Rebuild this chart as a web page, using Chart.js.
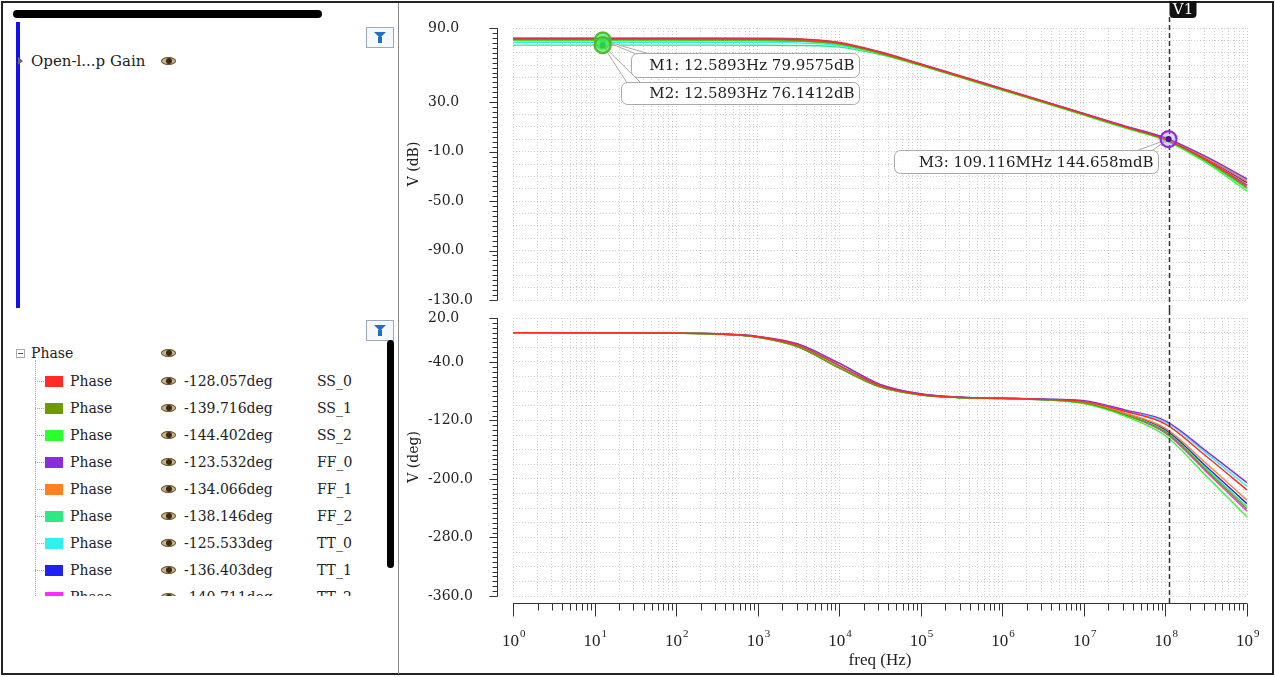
<!DOCTYPE html>
<html>
<head>
<meta charset="utf-8">
<script src="https://cdn.jsdelivr.net/npm/chart.js@4.4.1/dist/chart.umd.min.js"></script>
<style>
  body { margin: 0; width: 1275px; height: 677px; background: #fff; overflow: hidden; position: relative;
         font-family: "DejaVu Serif", serif; color: #222; }
  .abs { position: absolute; }
  #frame { left: 1px; top: 1px; width: 1269px; height: 670px; border: 2px solid #222; }
  #divider { left: 398px; top: 3px; width: 1px; height: 671px; background: #888; }
  .hbar { left: 13px; top: 10px; width: 309px; height: 8px; border-radius: 4px; background: #000; }
  .vbar { left: 16px; top: 22px; width: 4px; height: 286px; background: #1010f0; }
  .scroll { left: 387px; top: 340px; width: 7px; height: 228px; border-radius: 4px; background: #000; }
  .filter { width: 26px; height: 19px; border: 1px solid #9aaabb; background: #f6f9fc; }
  .filter::before { content: ""; position: absolute; left: 7px; top: 4px; border-left: 6px solid transparent;
                    border-right: 6px solid transparent; border-top: 6px solid #1f6fc5; }
  .filter::after { content: ""; position: absolute; left: 11px; top: 9px; width: 4px; height: 6px; background: #1f6fc5; }
  .eye { width: 15px; height: 8px; border-radius: 50%; background: #c8b48a; box-shadow: inset 0 0 0 1px #6b5533; }
  .eye::after { content: ""; position: absolute; left: 5px; top: 1px; width: 6px; height: 6px; border-radius: 50%; background: #3b2a12; }
  .txt { height: 18px; line-height: 18px; font-size: 14px; white-space: nowrap; }
  .exp { width: 7px; height: 7px; border: 1px solid #aaa; background: #fff; }
  .exp::after { content: ""; position: absolute; left: 1px; top: 3px; width: 5px; height: 1px; background: #555; }
  #list { left: 0; top: 340px; width: 385px; height: 256px; overflow: hidden; }
  .sq { width: 18px; height: 11px; }
  .tree { border-left: 1px dotted #aaa; }
  .conn { border-top: 1px dotted #aaa; height: 0; }
  canvas { position: absolute; }
</style>
</head>
<body>
<div id="frame" class="abs"></div>
<div id="divider" class="abs"></div>

<div class="abs hbar"></div>
<div class="abs vbar"></div>
<div class="abs filter" style="left:366px;top:27px"></div>
<div class="abs" style="left:18px;top:57px;width:0;height:0;border-top:4px solid transparent;border-bottom:4px solid transparent;border-left:5px solid #666"></div>
<div class="abs txt" style="left:31px;top:52px;font-size:15px">Open-l...p Gain</div>
<div class="abs eye" style="left:161px;top:57px"></div>

<div class="abs filter" style="left:366px;top:320px"></div>
<div class="abs scroll"></div>
<div class="abs exp" style="left:16px;top:349px"></div>
<div class="abs txt" style="left:31px;top:344px">Phase</div>
<div class="abs eye" style="left:161px;top:349px"></div>
<div id="list" class="abs"></div>

<canvas id="gainChart" width="870" height="310" style="left:400px;top:0"></canvas>
<canvas id="phaseChart" width="870" height="364" style="left:400px;top:310px"></canvas>

<script>
// frequency points (Hz)
const freqHz = [1, 10, 100, 316.2, 1e3, 3162, 1e4, 31623, 1e5, 316228, 1e6, 3162278, 1e7, 31622777, 1e8, 316227766, 1e9];

const cornerNames = ["SS_0", "SS_1", "SS_2", "FF_0", "FF_1", "FF_2", "TT_0", "TT_1", "TT_2"];
const seriesColors = ["#ff2a2a", "#6f9a00", "#2cff2c", "#8a2be2", "#ff7f27", "#2ee883", "#33f0f0", "#2020f0", "#ff2aff"];
const phaseAtCursor = ["-128.057deg", "-139.716deg", "-144.402deg", "-123.532deg", "-134.066deg",
                       "-138.146deg", "-125.533deg", "-136.403deg", "-140.711deg"];

// open-loop gain, dB
const gainSS_0 = [81.2, 81.2, 81.2, 81.2, 81.1, 80.7, 78.0, 70.4, 60.6, 50.6, 40.6, 30.6, 20.5, 10.2, 0.2, -16.5, -37];
const gainSS_1 = [80.6, 80.6, 80.6, 80.5, 80.4, 79.9, 77.2, 69.6, 60.0, 50.1, 40.1, 30.1, 20.0, 9.8, -0.3, -17.5, -39];
const gainSS_2 = [79.96, 79.96, 79.95, 79.94, 79.9, 79.4, 76.8, 69.2, 59.6, 49.6, 39.6, 29.6, 19.5, 9.2, -1.0, -19, -42];
const gainFF_0 = [81.5, 81.5, 81.5, 81.5, 81.4, 81.0, 78.2, 70.6, 60.9, 50.9, 40.9, 30.9, 20.9, 10.8, 1.2, -14, -32];
const gainFF_1 = [82.0, 82.0, 82.0, 82.0, 81.9, 81.4, 78.5, 70.8, 61.0, 51.0, 41.0, 31.0, 20.8, 10.6, 0.8, -15, -34];
const gainFF_2 = [76.14, 76.14, 76.13, 76.12, 76.08, 75.9, 74.5, 68.5, 59.8, 50.0, 40.0, 30.0, 19.8, 9.5, -0.6, -18, -40];
const gainTT_0 = [78.5, 78.5, 78.5, 78.5, 78.4, 78.0, 75.9, 69.4, 60.2, 50.3, 40.3, 30.3, 20.2, 10.2, 0.6, -15, -33];
const gainTT_1 = [80.0, 80.0, 80.0, 80.0, 79.9, 79.5, 77.0, 69.8, 60.3, 50.4, 40.4, 30.4, 20.3, 10.1, 0.3, -15.5, -35];
const gainTT_2 = [80.8, 80.8, 80.8, 80.8, 80.7, 80.3, 77.6, 70.0, 60.4, 50.4, 40.4, 30.4, 20.2, 9.9, -0.2, -17, -38];

// phase, deg
const phaseSS_0 = [0, -0.1, -0.6, -1.8, -5.7, -17.5, -45.0, -72.5, -84.5, -88.6, -89.8, -91.2, -94.0, -107.5, -125.0, -169, -215];
const phaseSS_1 = [0, -0.1, -0.7, -2.0, -6.4, -19.6, -48.2, -74.2, -85.2, -88.9, -90.0, -91.6, -96.0, -112.0, -136.0, -188, -241];
const phaseSS_2 = [0, -0.1, -0.7, -2.0, -6.4, -19.6, -48.2, -74.2, -85.3, -89.0, -90.2, -91.9, -97.0, -114.0, -141.0, -196, -252];
const phaseFF_0 = [0, -0.1, -0.5, -1.6, -5.1, -15.7, -41.8, -70.6, -83.6, -88.2, -89.5, -90.8, -93.0, -105.5, -120.5, -162, -205];
const phaseFF_1 = [0, -0.1, -0.5, -1.6, -5.1, -15.7, -41.8, -70.6, -83.8, -88.4, -89.7, -91.3, -95.0, -110.0, -131.0, -179, -229];
const phaseFF_2 = [0, -0.1, -0.6, -1.8, -5.7, -17.5, -45.0, -72.5, -84.6, -88.7, -89.9, -91.5, -96.0, -111.5, -135.0, -186, -238];
const phaseTT_0 = [0, -0.1, -0.6, -1.8, -5.7, -17.5, -45.0, -72.5, -84.2, -88.4, -89.6, -91.0, -93.5, -106.5, -122.5, -165, -210];
const phaseTT_1 = [0, -0.1, -0.6, -1.8, -5.7, -17.5, -45.0, -72.5, -84.5, -88.6, -89.8, -91.4, -95.5, -110.5, -133.0, -183, -234];
const phaseTT_2 = [0, -0.1, -0.7, -2.0, -6.4, -19.6, -48.2, -74.2, -85.1, -88.9, -90.1, -91.7, -96.5, -112.5, -137.5, -190, -244];

const gainSeries = [gainSS_0, gainSS_1, gainSS_2, gainFF_0, gainFF_1, gainFF_2, gainTT_0, gainTT_1, gainTT_2];
const phaseSeries = [phaseSS_0, phaseSS_1, phaseSS_2, phaseFF_0, phaseFF_1, phaseFF_2, phaseTT_0, phaseTT_1, phaseTT_2];

// axis tick labels
const gainTickLabels = [90, 30, -10, -50, -90, -130];
const phaseTickLabels = [20, -40, -120, -200, -280, -360];
const freqExponents = [0, 1, 2, 3, 4, 5, 6, 7, 8, 9];

// markers and cursor
const cursorFreq = 109.116e6;
const markerNames = ["M1", "M2", "M3"];
const markerFreq = [12.5893, 12.5893, 109.116e6];
const markerValue = [79.9575, 76.1412, 0.144658];
const markerText = ["M1: 12.5893Hz 79.9575dB", "M2: 12.5893Hz 76.1412dB", "M3: 109.116MHz 144.658mdB"];

// callout placement / look (style only)
const calloutStyle = [
  { dx: 28, dy: 13, w: 228, h: 24, tail: "left", ring: "rgba(80,180,40,0.95)", fill: "rgba(70,235,90,0.7)" },
  { dx: 18, dy: 37, w: 238, h: 22, tail: "left", ring: "rgba(80,180,40,0.95)", fill: "rgba(70,235,90,0.7)" },
  { dx: -275, dy: 11, w: 264, h: 23, tail: "right", ring: "#8a2be2", fill: "rgba(170,120,240,0.35)" }
];

// ---- left panel legend rows ----
const list = document.getElementById("list");
function add(cls, style, text) {
  const d = document.createElement("div");
  d.className = "abs " + cls;
  d.style.cssText = style;
  if (text) d.textContent = text;
  list.appendChild(d);
}
add("tree", "left:35px;top:20px;width:0;height:260px");
cornerNames.forEach((name, i) => {
  const cy = 41 + 27 * i;
  add("conn", `left:35px;top:${cy}px;width:9px`);
  add("sq", `left:45px;top:${cy - 5}px;background:${seriesColors[i]}`);
  add("txt", `left:70px;top:${cy - 9}px`, "Phase");
  add("eye", `left:161px;top:${cy - 4}px`);
  add("txt", `left:184px;top:${cy - 9}px`, phaseAtCursor[i]);
  add("txt", `left:317px;top:${cy - 9}px`, name);
});

// ---- chart plugins ----
const axisDecor = {
  id: "axisDecor",
  afterDraw(chart, args, opts) {
    const { ctx, chartArea: area } = chart;
    const x = chart.scales.x, y = chart.scales.y;
    const ax = area.left - 15.5;
    ctx.save();
    ctx.strokeStyle = "#333";
    ctx.lineWidth = 1;
    ctx.beginPath();
    ctx.moveTo(ax, area.top);
    ctx.lineTo(ax, area.bottom);
    for (let v = y.min; v <= y.max + 0.01; v += opts.minorStep) {
      const py = Math.round(y.getPixelForValue(v)) + 0.5;
      ctx.moveTo(ax, py);
      ctx.lineTo(ax - 5, py);
    }
    opts.tickLabels.forEach(v => {
      const py = Math.round(y.getPixelForValue(v)) + 0.5;
      ctx.moveTo(ax, py);
      ctx.lineTo(ax - 8, py);
    });
    ctx.stroke();

    ctx.fillStyle = "#222";
    ctx.font = '14px "DejaVu Serif"';
    ctx.textAlign = "left";
    ctx.textBaseline = "middle";
    opts.tickLabels.forEach(v => ctx.fillText(v.toFixed(1), 28, y.getPixelForValue(v)));

    if (opts.freqAxis) {
      const ly = area.bottom + 7.5;
      ctx.beginPath();
      ctx.moveTo(area.left, ly);
      ctx.lineTo(area.right, ly);
      x.ticks.forEach(t => {
        const lg = Math.log10(t.value);
        const dec = Math.abs(lg - Math.round(lg)) < 1e-6;
        const px = Math.round(x.getPixelForValue(t.value)) + 0.5;
        ctx.moveTo(px, ly);
        ctx.lineTo(px, ly + (dec ? 13 : 7));
      });
      ctx.stroke();
      freqExponents.forEach(e => {
        const px = x.getPixelForValue(Math.pow(10, e));
        ctx.font = '17px "Liberation Serif"';
        ctx.textAlign = "right";
        ctx.fillText("10", px + 6, ly + 38);
        ctx.font = '11px "Liberation Serif"';
        ctx.textAlign = "left";
        ctx.fillText(String(e), px + 7, ly + 31);
      });
    }
    ctx.restore();
  }
};

const cursorPlugin = {
  id: "cursorLine",
  afterDraw(chart, args, opts) {
    const { ctx, chartArea: area } = chart;
    const px = Math.round(chart.scales.x.getPixelForValue(cursorFreq)) + 0.5;
    ctx.save();
    ctx.strokeStyle = "#333";
    ctx.lineWidth = 1.5;
    ctx.setLineDash([5, 3]);
    ctx.beginPath();
    ctx.moveTo(px, opts.top ? 17 : 0);
    ctx.lineTo(px, opts.top ? chart.height : area.bottom + 7);
    ctx.stroke();
    ctx.setLineDash([]);
    if (opts.top) {
      ctx.fillStyle = "#111";
      ctx.beginPath();
      ctx.roundRect(px, 1, 27, 17, [0, 0, 4, 4]);
      ctx.fill();
      ctx.fillStyle = "#fff";
      ctx.font = '15px "DejaVu Serif"';
      ctx.textAlign = "center";
      ctx.textBaseline = "middle";
      ctx.fillText("V1", px + 13.5, 10);
    }
    ctx.restore();
  }
};

const markerPlugin = {
  id: "markerCallouts",
  afterDraw(chart) {
    const ctx = chart.ctx, x = chart.scales.x, y = chart.scales.y;
    ctx.save();
    markerNames.forEach((name, i) => {
      const st = calloutStyle[i];
      const mx = x.getPixelForValue(markerFreq[i]);
      const my = y.getPixelForValue(markerValue[i]);
      const left = Math.round(mx + st.dx) + 0.5, top = Math.round(my + st.dy) + 0.5;
      const right = left + st.w;
      const a = st.tail === "left" ? [left + 6, top + 1] : [right - 24, top + 1];
      const b = st.tail === "left" ? [left + 20, top + 1] : [right - 8, top + 1];
      ctx.strokeStyle = "#a8a8a8";
      ctx.lineWidth = 1;
      ctx.fillStyle = "rgba(255,255,255,0.92)";
      ctx.beginPath();
      ctx.moveTo(mx, my);
      ctx.lineTo(a[0], a[1]);
      ctx.lineTo(b[0], b[1]);
      ctx.closePath();
      ctx.fill();
      ctx.beginPath();
      ctx.moveTo(mx, my); ctx.lineTo(a[0], a[1]);
      ctx.moveTo(mx, my); ctx.lineTo(b[0], b[1]);
      ctx.stroke();
      ctx.beginPath();
      ctx.roundRect(left, top, st.w, st.h, 6);
      ctx.fill();
      ctx.stroke();
      ctx.fillStyle = "#222";
      ctx.font = '15px "DejaVu Serif"';
      ctx.textAlign = "right";
      ctx.textBaseline = "middle";
      ctx.fillText(markerText[i], right - 5, top + st.h / 2 + 1);
    });
    markerNames.forEach((name, i) => {
      const st = calloutStyle[i];
      const mx = x.getPixelForValue(markerFreq[i]);
      const my = y.getPixelForValue(markerValue[i]);
      ctx.beginPath();
      ctx.arc(mx, my, 8, 0, Math.PI * 2);
      ctx.fillStyle = st.fill;
      ctx.fill();
      ctx.lineWidth = 2.2;
      ctx.strokeStyle = st.ring;
      ctx.stroke();
      ctx.beginPath();
      ctx.arc(mx, my, 3, 0, Math.PI * 2);
      ctx.fillStyle = st.tail === "right" ? "#4a1390" : "rgba(40,200,70,0.9)";
      ctx.fill();
    });
    ctx.restore();
  }
};

// ---- charts ----
const gridColor = "#cfcfcf";

function logTicks(scale) {
  const t = [];
  for (let e = 0; e < 9; e++) {
    for (let m = 1; m < 10; m++) t.push({ value: m * Math.pow(10, e) });
  }
  t.push({ value: 1e9 });
  scale.ticks = t;
}

function makeDatasets(series) {
  return series.map((vals, i) => ({
    label: cornerNames[i],
    data: freqHz.map((f, j) => ({ x: f, y: vals[j] })),
    borderColor: seriesColors[i],
    borderWidth: 1.4,
    pointRadius: 0,
    fill: false,
    cubicInterpolationMode: "monotone"
  }));
}

function chartOptions(cfg) {
  return {
    animation: false,
    responsive: false,
    maintainAspectRatio: false,
    layout: { padding: cfg.padding },
    plugins: {
      legend: { display: false },
      tooltip: { enabled: false },
      axisDecor: { tickLabels: cfg.tickLabels, minorStep: cfg.minorStep, freqAxis: cfg.freqAxis },
      cursorLine: { top: !cfg.freqAxis }
    },
    scales: {
      x: {
        type: "logarithmic",
        min: 1,
        max: 1e9,
        afterBuildTicks: logTicks,
        ticks: { display: false, autoSkip: false },
        grid: { color: gridColor, drawTicks: false },
        border: { display: false, dash: [1, 2] },
        title: {
          display: cfg.freqAxis,
          text: "freq (Hz)",
          color: "#222",
          font: { family: "Liberation Serif", size: 17 },
          padding: { top: 0, bottom: 3 }
        },
        afterFit(s) { s.height = cfg.xHeight; }
      },
      y: {
        min: cfg.min,
        max: cfg.max,
        afterBuildTicks(s) {
          const t = [];
          for (let v = cfg.min; v <= cfg.max + 0.01; v += cfg.gridStep) t.push({ value: v });
          s.ticks = t;
        },
        ticks: { display: false },
        grid: { color: gridColor, drawTicks: false },
        border: { display: false, dash: [1, 2] },
        title: {
          display: true,
          text: cfg.yTitle,
          color: "#222",
          font: { family: "DejaVu Serif", size: 14 },
          padding: { top: 6, bottom: 0 }
        },
        afterFit(s) { s.width = 113; }
      }
    }
  };
}

new Chart(document.getElementById("gainChart"), {
  type: "line",
  data: { datasets: makeDatasets(gainSeries) },
  options: chartOptions({
    padding: { top: 28, right: 23, bottom: 10, left: 0 },
    min: -130, max: 90, gridStep: 10, minorStep: 4,
    tickLabels: gainTickLabels, yTitle: "V (dB)", freqAxis: false, xHeight: 0
  }),
  plugins: [axisDecor, cursorPlugin, markerPlugin]
});

new Chart(document.getElementById("phaseChart"), {
  type: "line",
  data: { datasets: makeDatasets(phaseSeries) },
  options: chartOptions({
    padding: { top: 8, right: 23, bottom: 0, left: 0 },
    min: -360, max: 20, gridStep: 20, minorStep: 20 / 3,
    tickLabels: phaseTickLabels, yTitle: "V (deg)", freqAxis: true, xHeight: 78
  }),
  plugins: [axisDecor, cursorPlugin]
});
</script>
</body>
</html>
